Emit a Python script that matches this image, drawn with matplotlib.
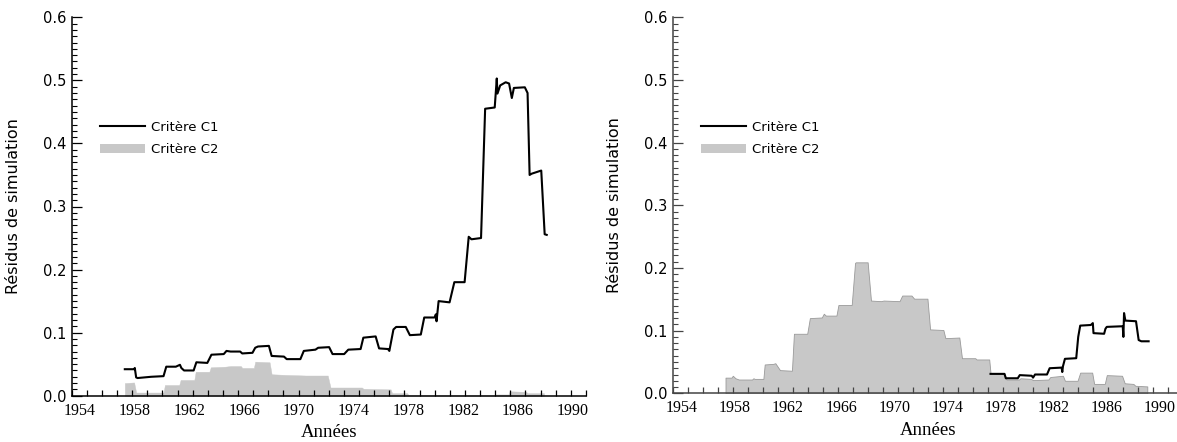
import numpy as np
import matplotlib
matplotlib.use("Agg")
import matplotlib.pyplot as plt
from matplotlib.lines import Line2D
from matplotlib.patches import Patch

# années affichées sous l'axe
annees_labels = [1954, 1958, 1962, 1966, 1970, 1974, 1978, 1982, 1986, 1990]
y_labels = [0.0, 0.1, 0.2, 0.3, 0.4, 0.5, 0.6]

# --- panneau gauche : critère C1 (ligne noire)
g_c1_x = [1957.27, 1957.95, 1958.0, 1958.1, 1958.2, 1959.2, 1960.1, 1960.3, 1961.0, 1961.3,
          1961.4, 1961.6, 1962.3, 1962.5, 1963.3, 1963.6, 1964.5, 1964.7, 1965.0, 1965.7,
          1965.85, 1966.6, 1966.8, 1967.0, 1967.8, 1968.0, 1968.9, 1969.1, 1970.1, 1970.35,
          1971.2, 1971.4, 1972.2, 1972.45, 1973.3, 1973.6, 1974.5, 1974.7, 1975.6, 1975.85,
          1976.5, 1976.6, 1976.9, 1977.1, 1977.8, 1978.1, 1978.9, 1979.15, 1979.9, 1980.0,
          1980.05, 1980.2, 1981.0, 1981.35, 1982.1, 1982.4, 1982.6, 1983.3, 1983.6, 1984.3,
          1984.45, 1984.5, 1984.7, 1985.1, 1985.35, 1985.55, 1985.7, 1986.5, 1986.7, 1986.85,
          1987.0, 1987.7, 1987.95, 1988.1]
g_c1_y = [0.042, 0.042, 0.044, 0.029, 0.028, 0.030, 0.031, 0.046, 0.046, 0.049,
          0.044, 0.040, 0.040, 0.053, 0.052, 0.065, 0.066, 0.071, 0.070, 0.070,
          0.067, 0.068, 0.076, 0.078, 0.079, 0.063, 0.062, 0.058, 0.058, 0.071,
          0.073, 0.076, 0.077, 0.066, 0.066, 0.073, 0.074, 0.092, 0.094, 0.075,
          0.074, 0.071, 0.105, 0.109, 0.109, 0.096, 0.097, 0.124, 0.124, 0.129,
          0.118, 0.150, 0.148, 0.180, 0.180, 0.252, 0.248, 0.250, 0.455, 0.457,
          0.503, 0.479, 0.492, 0.497, 0.495, 0.472, 0.488, 0.489, 0.480, 0.350,
          0.352, 0.357, 0.256, 0.255]

# --- panneau gauche : critère C2 (aire grise)
g_c2_x = [1957.27, 1957.95, 1958.1, 1960.1, 1960.2, 1961.25, 1961.35, 1962.35, 1962.45, 1963.45,
          1963.55, 1964.6, 1965.0, 1965.75, 1965.85, 1966.7, 1966.8, 1967.85, 1968.0, 1969.0,
          1970.5, 1972.1, 1972.3, 1974.6, 1974.7, 1976.7, 1976.8, 1977.9, 1978.0, 1984.3,
          1984.4, 1985.3, 1985.4, 1986.6, 1986.7, 1987.9]
g_c2_y = [0.020, 0.021, 0.005, 0.005, 0.017, 0.017, 0.025, 0.025, 0.038, 0.038,
          0.045, 0.046, 0.047, 0.047, 0.044, 0.044, 0.054, 0.053, 0.034, 0.033,
          0.032, 0.032, 0.013, 0.013, 0.011, 0.010, 0.004, 0.004, 0.001, 0.001,
          0.002, 0.002, 0.007, 0.006, 0.004, 0.004]

# --- panneau droit : critère C1
d_c1_x = [1977.25, 1978.3, 1978.4, 1979.3, 1979.45, 1980.35, 1980.45, 1980.6, 1981.5, 1981.7,
          1982.6, 1982.65, 1982.7, 1982.85, 1983.7, 1983.85, 1984.0, 1984.8, 1984.95, 1985.0,
          1985.8, 1985.9, 1986.0, 1987.2, 1987.25, 1987.3, 1987.4, 1988.2, 1988.4, 1988.6,
          1989.15]
d_c1_y = [0.031, 0.031, 0.024, 0.024, 0.029, 0.028, 0.025, 0.030, 0.030, 0.040,
          0.041, 0.034, 0.043, 0.055, 0.056, 0.090, 0.108, 0.109, 0.112, 0.096,
          0.095, 0.103, 0.106, 0.107, 0.090, 0.128, 0.116, 0.115, 0.085, 0.083,
          0.083]

# --- panneau droit : critère C2
d_c2_x = [1957.30, 1957.75, 1957.85, 1958.05, 1958.3, 1959.3, 1959.4, 1959.5, 1960.15, 1960.25,
          1960.9, 1961.05, 1961.4, 1962.3, 1962.45, 1963.45, 1963.65, 1964.55, 1964.7, 1964.85,
          1965.65, 1965.8, 1966.8, 1967.05, 1967.1, 1968.0, 1968.25, 1969.0, 1969.2, 1970.4,
          1970.6, 1971.3, 1971.5, 1972.5, 1972.7, 1973.7, 1973.85, 1974.9, 1975.1, 1976.1,
          1976.2, 1977.15, 1977.25, 1978.3, 1978.45, 1979.4, 1979.5, 1980.3, 1980.45, 1981.6,
          1981.75, 1982.7, 1982.85, 1983.8, 1984.0, 1984.9, 1985.05, 1985.85, 1986.0, 1987.15,
          1987.35, 1988.0, 1988.15, 1989.05]
d_c2_y = [0.025, 0.025, 0.028, 0.024, 0.022, 0.022, 0.024, 0.023, 0.023, 0.046,
          0.047, 0.048, 0.037, 0.036, 0.095, 0.095, 0.120, 0.121, 0.127, 0.124,
          0.124, 0.141, 0.141, 0.208, 0.209, 0.209, 0.148, 0.147, 0.148, 0.147,
          0.156, 0.156, 0.151, 0.151, 0.102, 0.101, 0.088, 0.089, 0.056, 0.056,
          0.054, 0.054, 0.032, 0.031, 0.022, 0.022, 0.024, 0.023, 0.021, 0.022,
          0.026, 0.028, 0.020, 0.020, 0.033, 0.033, 0.015, 0.015, 0.029, 0.028,
          0.016, 0.015, 0.012, 0.011]

GRIS = '#c8c8c8'
W, H = 1177, 442

fig = plt.figure(figsize=(W / 100, H / 100), dpi=100)


def panneau(rect, xlim, c1x, c1y, c2x, c2y, couleur_axe, bord_gris, ylab_x, leg_xy):
    ax = fig.add_axes(rect)
    # aire C2 puis ligne C1 par-dessus
    if bord_gris:
        ax.fill_between(c2x, c2y, 0, facecolor=GRIS, edgecolor='#9a9a9a', linewidth=0.6)
    else:
        ax.fill_between(c2x, c2y, 0, facecolor=GRIS, edgecolor=GRIS, linewidth=0.3)
    ax.plot(c1x, c1y, color='black', lw=1.5)

    ax.set_xlim(*xlim)
    ax.set_ylim(0, 0.6)

    for s in ['top', 'right']:
        ax.spines[s].set_visible(False)
    for s in ['left', 'bottom']:
        ax.spines[s].set_color(couleur_axe)
        ax.spines[s].set_linewidth(1.1)

    # axe x : étiquettes sans tirets, petits tirets réguliers
    ax.set_xticks(annees_labels)
    ax.set_xticklabels([str(a) for a in annees_labels], family='Liberation Serif', fontsize=11.5)
    ax.set_xticks(np.linspace(xlim[0], xlim[1], 35), minor=True)
    ax.tick_params(axis='x', which='major', length=0, pad=5)
    ax.tick_params(axis='x', which='minor', direction='in', length=4.2, width=0.9,
                   color=couleur_axe)

    # axe y
    ax.set_yticks(y_labels)
    ax.set_yticklabels(['%.1f' % v for v in y_labels], family='DejaVu Sans', fontsize=10.5)
    ax.set_yticks(np.arange(0, 0.6001, 0.01), minor=True)
    ax.tick_params(axis='y', which='major', direction='in', length=7, width=0.9,
                   pad=4, color=couleur_axe)
    ax.tick_params(axis='y', which='minor', direction='in', length=3.6, width=0.8,
                   color=couleur_axe)

    ax.set_ylabel('Résidus de simulation', family='DejaVu Sans', fontsize=11.5)
    ax.yaxis.set_label_coords(ylab_x, 0.5)
    ax.set_xlabel('Années', family='Liberation Serif', fontsize=13.5, labelpad=4)

    handles = [Line2D([], [], color='black', lw=1.5), Patch(facecolor=GRIS, edgecolor='none')]
    ax.legend(handles, ['Critère C1', 'Critère C2'], loc='upper left', bbox_to_anchor=leg_xy,
              frameon=False, handlelength=3.4, handletextpad=0.5, labelspacing=0.75,
              borderpad=0, borderaxespad=0, prop={'family': 'DejaVu Sans', 'size': 9.5})
    return ax


panneau([71.7 / W, (H - 395.7) / H, 514.3 / W, 378.4 / H], (1953.39, 1990.97),
        g_c1_x, g_c1_y, g_c2_x, g_c2_y, 'black', False, -0.0986, (0.055, 0.727))
panneau([673.3 / W, (H - 393.3) / H, 510 / W, 376 / H], (1953.37, 1991.76),
        d_c1_x, d_c1_y, d_c2_x, d_c2_y, '#444444', True, -0.100, (0.054, 0.7255))

fig.savefig('out.png', dpi=100)
